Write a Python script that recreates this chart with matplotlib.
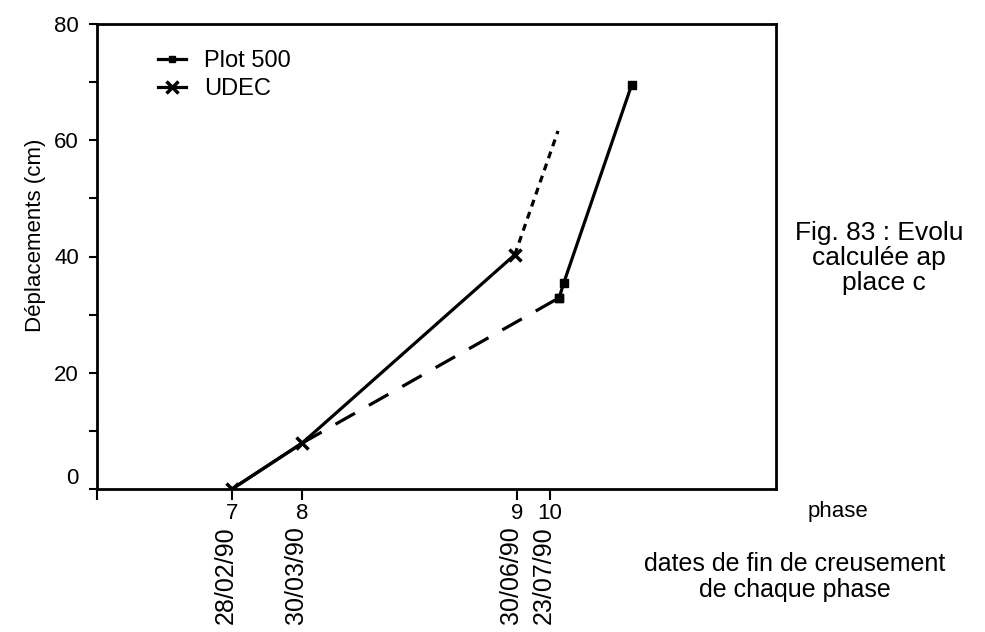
import numpy as np
import matplotlib
matplotlib.use("Agg")
from matplotlib import pyplot as plt
from matplotlib.lines import Line2D
from matplotlib.transforms import blended_transform_factory

plt.rcParams['font.family'] = ['Liberation Sans', 'DejaVu Sans']

# phases (x = day of 1990, as placed on the original axis)
phase_x = [59, 89, 181, 195]
phase_labels = ['7', '8', '9', '10']
date_labels = ['28/02/90', '30/03/90', '30/06/90', '23/07/90']

# UDEC (computed), with dotted extrapolation
udec_x = [59, 89, 180]
udec_y = [0, 7.9, 40.3]
udec_ext_x = [180, 198.5]
udec_ext_y = [40.3, 61.6]

# Plot 500 (measured)
p500_a_x = [59, 89]
p500_a_y = [0, 7.9]
p500_dash_x = [89, 199]
p500_dash_y = [7.9, 32.9]
p500_b_x = [199, 201, 230]
p500_b_y = [32.9, 35.5, 69.5]

W, H = 985, 632
fig = plt.figure(figsize=(W / 100, H / 100), dpi=100)
ax = fig.add_axes([97 / W, 1 - 489 / H, (776 - 97) / W, (489 - 24) / H])

lw = 2.3
# UDEC
ax.plot(udec_x, udec_y, color='k', lw=lw, marker='x', ms=9, mew=2.5)
ax.plot(udec_ext_x, udec_ext_y, color='k', lw=lw, ls=(0, (2.2, 1.8)))
# Plot 500
ax.plot(p500_a_x, p500_a_y, color='k', lw=lw)
ax.plot(p500_dash_x, p500_dash_y, color='k', lw=lw, ls=(0, (7, 5)))
ax.plot(p500_b_x, p500_b_y, color='k', lw=lw, marker='s', ms=6)
ax.plot([p500_dash_x[-1]], [p500_dash_y[-1]], color='k', marker='s', ms=6, ls='none')

ax.set_xlim(1.2, 291.8)
ax.set_ylim(0, 80)

ax.set_yticks([0, 20, 40, 60, 80])
ax.set_yticks([10, 30, 50, 70], minor=True)
ax.tick_params(axis='y', which='both', direction='out', length=6, width=1.5,
               labelsize=16, pad=7)
ax.get_yticklabels()[0].set_va('bottom')

ax.set_xticks(phase_x)
ax.set_xticklabels(phase_labels)
ax.set_xticks([1.2], minor=True)
ax.tick_params(axis='x', which='both', direction='out', length=8, width=1.5,
               labelsize=16, pad=2)

for s in ax.spines.values():
    s.set_linewidth(2)

ax.set_ylabel('Déplacements (cm)', fontsize=16)
ax.yaxis.set_label_coords((46 - 97) / (776 - 97), (489 - 235) / (489 - 24))

# dates under each phase
tr = blended_transform_factory(ax.transData, ax.transAxes)
for x, d in zip(phase_x, date_labels):
    ax.text(x - 2.5, -(526 - 489) / (489 - 24), d, transform=tr, rotation=90,
            ha='center', va='top', fontsize=18)

# legend
handles = [Line2D([], [], color='k', lw=lw, marker='s', ms=4),
           Line2D([], [], color='k', lw=lw, marker='x', ms=8, mew=2.5)]
ax.legend(handles, ['Plot 500', 'UDEC'], loc='upper left',
          bbox_to_anchor=(158 / W, 1 - 50 / H), bbox_transform=fig.transFigure,
          frameon=False, fontsize=17, borderpad=0, borderaxespad=0,
          handlelength=1.2, handletextpad=0.75, labelspacing=0.25)

# side texts
fig.text(808 / W, 1 - 512 / H, 'phase', fontsize=16, ha='left', va='center')
fig.text(795 / W, 1 - 577 / H, 'dates de fin de creusement\nde chaque phase',
         fontsize=18, ha='center', va='center', linespacing=1.15)
fig.text(795 / W, 1 - 233 / H, 'Fig. 83 : Evolu', fontsize=19, ha='left', va='center')
fig.text(812 / W, 1 - 258 / H, 'calculée ap', fontsize=19, ha='left', va='center')
fig.text(842 / W, 1 - 283 / H, 'place c', fontsize=19, ha='left', va='center')

fig.savefig('out.png', dpi=100)
